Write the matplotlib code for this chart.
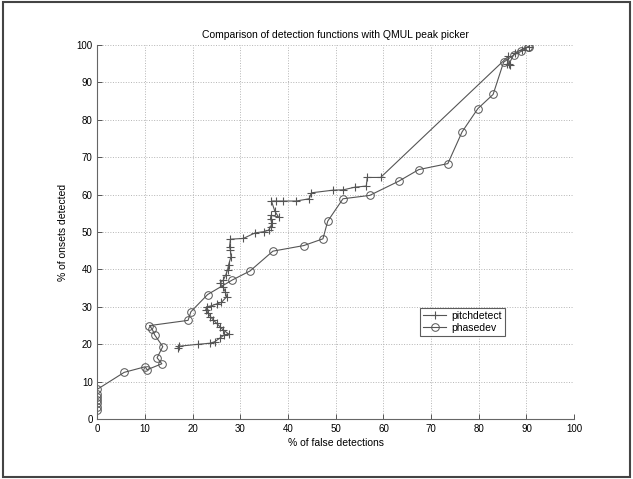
import matplotlib
matplotlib.use('Agg')
import matplotlib.pyplot as plt
from matplotlib.patches import Rectangle

plt.rcParams['font.family'] = ['Liberation Sans', 'DejaVu Sans']

# pitchdetect curve (+ markers)
pitch_x = [16.9, 17.2, 21.1, 23.7, 24.6, 25.6, 26.6, 27.5, 26.4, 25.7, 25.0, 24.3, 23.7,
           23.2, 22.7, 22.9, 23.9, 25.0, 26.0, 27.1, 26.8, 26.3, 25.7, 26.4, 26.9, 27.3,
           27.5, 28.0, 27.9, 27.7, 27.9, 30.6, 33.1, 34.9, 35.9, 36.3, 36.6, 36.3, 36.4,
           38.0, 37.2, 36.5, 37.5, 38.9, 41.7, 44.4, 44.9, 49.4, 51.6, 54.0, 56.4, 56.6,
           59.4, 86.2, 86.0, 86.5, 86.3, 87.5, 89.0, 90.5]
pitch_y = [19.1, 19.5, 20.0, 20.3, 20.7, 21.6, 22.5, 22.8, 23.8, 24.7, 25.6, 26.5, 27.4,
           28.3, 29.2, 30.0, 30.3, 30.8, 31.2, 32.7, 34.1, 35.4, 36.3, 37.2, 38.5, 39.9,
           41.2, 43.4, 45.2, 46.1, 48.1, 48.3, 49.8, 50.1, 50.5, 51.4, 52.3, 53.6, 54.5,
           54.0, 55.6, 58.3, 58.3, 58.3, 58.3, 58.9, 60.5, 61.2, 61.3, 62.0, 62.3, 64.6,
           64.6, 97.0, 95.0, 94.7, 94.9, 97.8, 98.8, 99.6]

# phasedev curve (o markers)
phase_x = [0, 0, 0, 0, 0, 0, 0, 5.6, 10.0, 10.4, 13.5, 12.5, 13.7, 12.0, 11.5, 10.9,
           19.0, 19.6, 23.1, 28.3, 32.0, 36.8, 43.3, 47.3, 48.3, 51.5, 57.1, 63.2, 67.4,
           73.5, 76.5, 79.8, 83.0, 85.2, 87.4, 88.9, 90.3, 90.6]
phase_y = [2.5, 3.3, 4.2, 5.0, 5.8, 6.6, 8.0, 12.5, 14.0, 13.2, 14.8, 16.4, 19.4, 22.5,
           24.0, 25.0, 26.4, 28.7, 33.3, 37.2, 39.6, 44.9, 46.4, 48.2, 52.9, 58.9, 59.8,
           63.6, 66.7, 68.3, 76.8, 83.0, 86.8, 95.4, 97.4, 98.3, 99.5, 99.6]

ticks = list(range(0, 101, 10))

fig = plt.figure(figsize=(6.33, 4.79), dpi=100)
ax = fig.add_axes([0.154, 0.125, 0.753, 0.781])

line_col = '#555555'
ax.plot(pitch_x, pitch_y, color=line_col, lw=0.8, marker='+', markersize=5.5,
        markeredgewidth=0.8, label='pitchdetect')
ax.plot(phase_x, phase_y, color=line_col, lw=0.8, marker='o', markersize=5.5,
        markerfacecolor='none', markeredgewidth=0.7, label='phasedev')

ax.set_xlim(0, 100)
ax.set_ylim(0, 100)
ax.set_xticks(ticks)
ax.set_yticks(ticks)
ax.tick_params(direction='in', length=3.5, labelsize=7, color='#555555', width=0.7)
ax.grid(True, linestyle=':', color='#b5b5b5', lw=0.7)
for s in ['top', 'right']:
    ax.spines[s].set_visible(False)
for s in ['left', 'bottom']:
    ax.spines[s].set_color('#666666')
    ax.spines[s].set_linewidth(0.8)

ax.set_title('Comparison of detection functions with QMUL peak picker', fontsize=7.5, pad=5)
ax.set_xlabel('% of false detections', fontsize=7.5, labelpad=3)
ax.set_ylabel('% of onsets detected', fontsize=7.5, labelpad=6)

leg = ax.legend(loc='lower left', bbox_to_anchor=(0.677, 0.222), fontsize=7.5,
                frameon=True, fancybox=False, handlelength=2.2, borderpad=0.3,
                labelspacing=0.2, handletextpad=0.5, borderaxespad=0)
leg.get_frame().set_edgecolor('#333333')
leg.get_frame().set_linewidth(0.8)

fig.patches.append(Rectangle((3 / 633, 2 / 479), 627 / 633, 475 / 479,
                             transform=fig.transFigure, fill=False,
                             edgecolor='#444444', lw=1.5))

plt.savefig('out.png', dpi=100)
